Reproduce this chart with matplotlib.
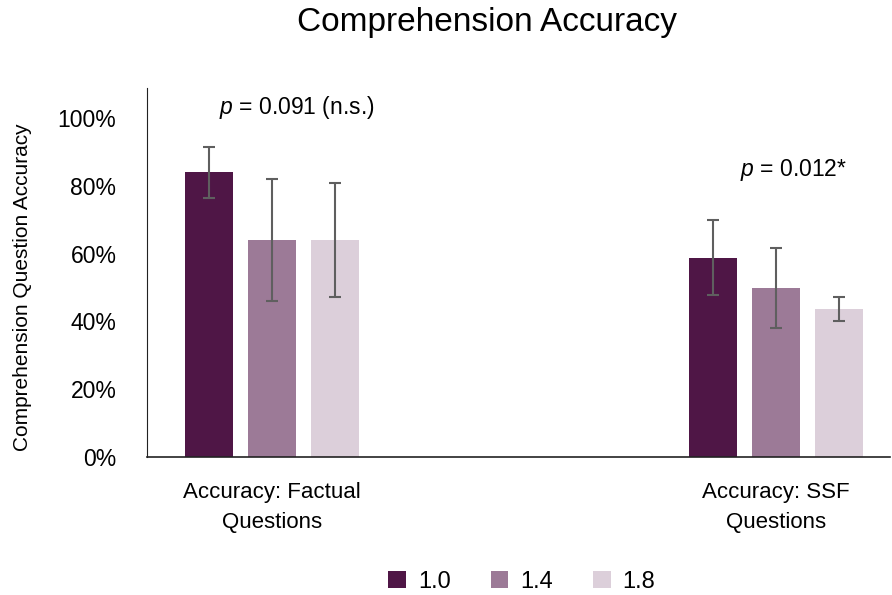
import matplotlib
matplotlib.use('Agg')
import matplotlib.pyplot as plt
import numpy as np
from matplotlib.ticker import PercentFormatter

plt.rcParams['font.family'] = ['Liberation Sans', 'DejaVu Sans']
plt.rcParams['mathtext.fontset'] = 'custom'
plt.rcParams['mathtext.it'] = 'Liberation Sans:italic'
plt.rcParams['mathtext.rm'] = 'Liberation Sans'

# data
categories = ['Accuracy: Factual\nQuestions', 'Accuracy: SSF\nQuestions']
speeds = ['1.0', '1.4', '1.8']
acc = {
    '1.0': [0.84, 0.588],
    '1.4': [0.64, 0.499],
    '1.8': [0.64, 0.437],
}
err = {
    '1.0': [0.075, 0.111],
    '1.4': [0.18, 0.118],
    '1.8': [0.168, 0.035],
}
p_labels = [r'$p$ = 0.091 (n.s.)', r'$p$ = 0.012*']
colors = ['#4F1646', '#9C7A97', '#DCCFDA']

fig = plt.figure(figsize=(8.92, 5.95), dpi=100)
ax = fig.add_axes([147/892, 1-457/595, (890-147)/892, (457-88)/595])

x = np.arange(len(categories))
w = 0.095
step = 0.125
for i, s in enumerate(speeds):
    ax.bar(x + (i-1)*step, acc[s], w, color=colors[i], label=s,
           yerr=err[s], capsize=4,
           error_kw=dict(ecolor='#5f5f5f', elinewidth=1.5, capthick=1.5))

ax.set_xlim(-0.248, 1.226)
ax.set_ylim(0, 1.088)
ax.set_yticks(np.arange(0, 1.01, 0.2))
ax.yaxis.set_major_formatter(PercentFormatter(1.0, decimals=0))
ax.tick_params(axis='y', length=0, labelsize=16.5, pad=22)
ax.tick_params(axis='x', length=0, labelsize=16, pad=18)
ax.set_xticks(x)
ax.set_xticklabels(categories, linespacing=1.55)
ax.set_ylabel('Comprehension Question Accuracy', fontsize=15)
ax.yaxis.set_label_coords(-0.155, 0.46)
ax.spines['top'].set_visible(False)
ax.spines['right'].set_visible(False)
ax.spines['left'].set_color('#222222')
ax.spines['bottom'].set_color('#222222')
ax.spines['bottom'].set_linewidth(1.2)

ax.text(x[0] + 0.05, 1.03, p_labels[0], ha='center', va='center', fontsize=16.5)
ax.text(x[1] + 0.035, 0.845, p_labels[1], ha='center', va='center', fontsize=16.5)

fig.text(0.546, 0.963, 'Comprehension Accuracy', ha='center', va='center', fontsize=24)
fig.legend(loc='lower center', bbox_to_anchor=(0.585, -0.032), ncol=3, frameon=False,
           fontsize=17, handlelength=0.75, handleheight=0.75, columnspacing=1.7,
           handletextpad=0.5)

plt.savefig('out.png', dpi=100)
plt.close()
